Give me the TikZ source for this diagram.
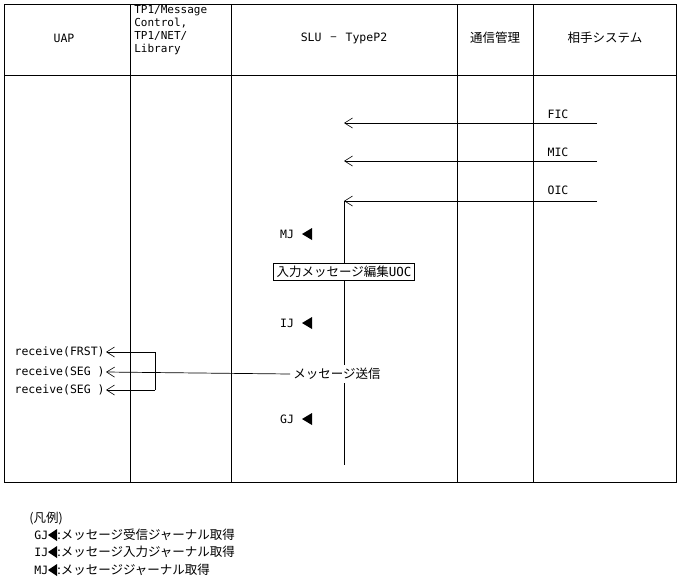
\documentclass[tikz,border=0pt]{standalone}
\usepackage{fontspec}
\setmainfont{DejaVu Sans Mono}
\newfontfamily\jp{Noto Sans CJK JP}
\usetikzlibrary{arrows.meta}
\begin{document}
\begin{tikzpicture}[x=1pt,y=-1pt,line width=0.7pt,
  lbl/.style={font=\fontsize{11.5}{14}\selectfont,inner sep=1pt},
  jl/.style={font=\jp\fontsize{12.5}{14}\selectfont,inner sep=1pt},
  msg/.style={-{Straight Barb[length=8pt,width=10pt,line width=0.6pt]}}]
\useasboundingbox (0,0) rectangle (678,587);
\draw (4,4) rectangle (676,482);
\draw (4,75) -- (676,75);
\foreach \x in {130,231,457,533} \draw (\x,4) -- (\x,482);
\node[lbl] (h1) at (64,38) {UAP};
\node[lbl,align=left,anchor=north west,font=\fontsize{11}{13}\selectfont] (h2) at (133,4) {TP1/Message\\Control,\\TP1/NET/\\Library};
\node[lbl] (h3) at (344,38) {SLU \,{\jp −} \,TypeP2};
\node[jl] (h4) at (495,38) {通信管理};
\node[jl] (h5) at (605,38) {相手システム};
% messages
\coordinate (f1) at (597,123); \coordinate (f2) at (344,123);
\coordinate (m1) at (597,161); \coordinate (m2) at (344,161);
\coordinate (o1) at (597,201); \coordinate (o2) at (344,201);
\draw[msg] (f1) -- (f2); \draw[msg] (m1) -- (m2); \draw[msg] (o1) -- (o2);
\node[lbl] (fic) at (558,114) {FIC};
\node[lbl] (mic) at (558,152) {MIC};
\node[lbl] (oic) at (558,190) {OIC};
\coordinate (vb) at (344,465);
\draw (o2) -- (vb);
\node[jl,draw,fill=white,line width=0.6pt,inner sep=3pt] (uoc) at (344,272) {入力メッセージ編集\fontspec{DejaVu Sans Mono}UOC};
\node[jl,fill=white,inner sep=3pt] (send) at (337,374) {メッセージ送信};
\node[lbl] (mj) at (287,234) {MJ};
\node[lbl] (ij) at (287,323) {IJ};
\node[lbl] (gj) at (287,419) {GJ};
\foreach \n/\y in {mj/234,ij/323,gj/419}
  \fill (302,\y) -- (312,\y-6) -- (312,\y+6) -- cycle;
% UAP receives
\node[lbl,anchor=east] (r1) at (106,352) {receive(FRST)};
\node[lbl,anchor=east] (r2) at (106,372) {receive(SEG )};
\node[lbl,anchor=east] (r3) at (106,390) {receive(SEG )};
\coordinate (b1) at (155,352); \coordinate (b3) at (155,390);
\draw (b1) -- (b3);
\draw[msg] (b1) -- (r1.east);
\draw[msg] (b3) -- (r3.east);
\draw[msg] (send.west) -- (r2.east);
% legend
\node[jl,anchor=west] (lg) at (28,518) {(凡例)};
\node[lbl,anchor=west] (l1a) at (33,535) {GJ};
\node[lbl,anchor=west] (l2a) at (33,552) {IJ};
\node[lbl,anchor=west] (l3a) at (33,570) {MJ};
\node[jl,anchor=west,inner sep=0pt] (l1) at (57,535) {:メッセージ受信ジャーナル取得};
\node[jl,anchor=west,inner sep=0pt] (l2) at (57,552) {:メッセージ入力ジャーナル取得};
\node[jl,anchor=west,inner sep=0pt] (l3) at (57,570) {:メッセージジャーナル取得};
\foreach \y in {535,552,570}
  \fill (48,\y) -- (57,\y-6) -- (57,\y+6) -- cycle;
\end{tikzpicture}
\end{document}
